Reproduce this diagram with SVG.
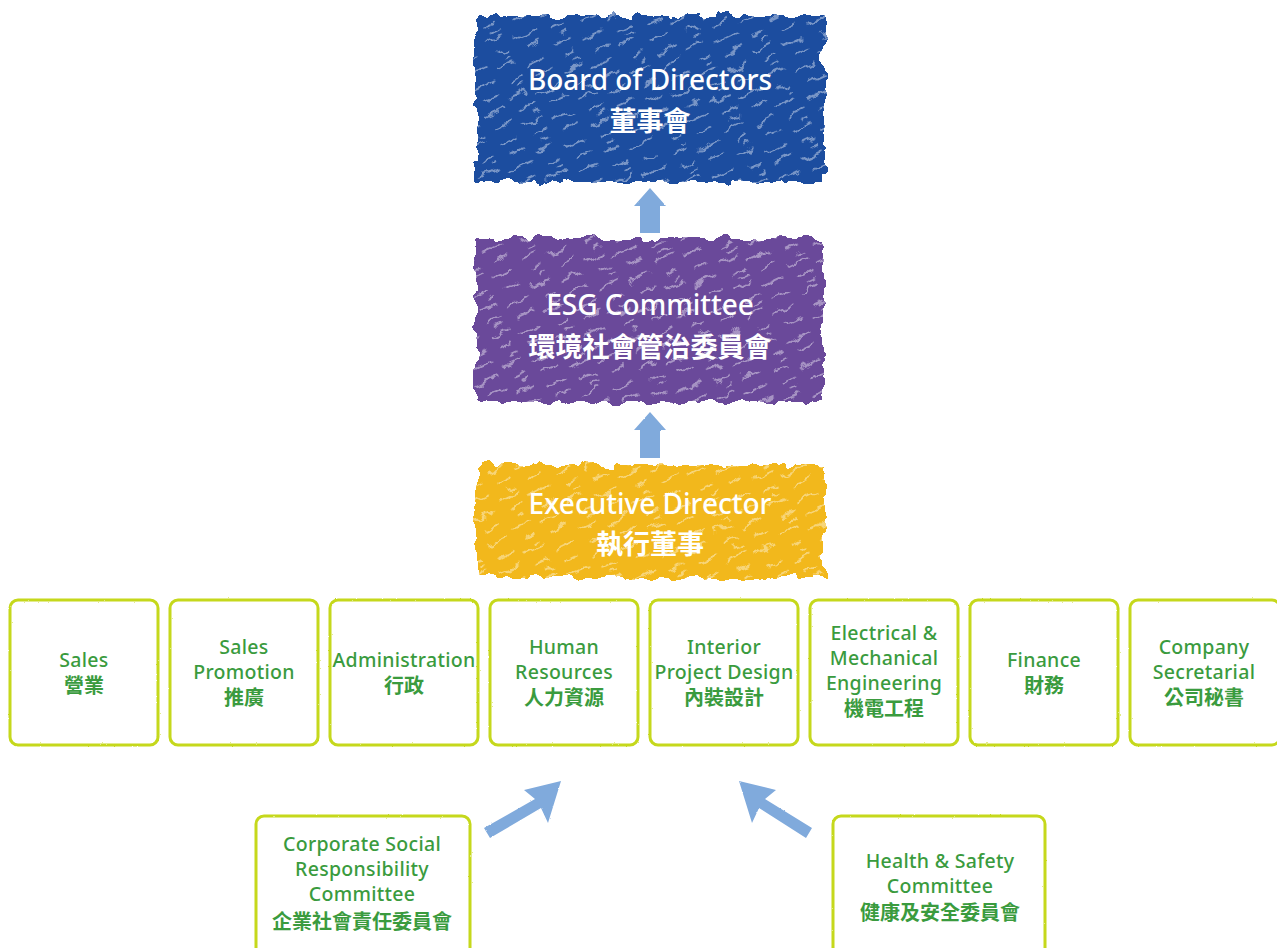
<svg xmlns="http://www.w3.org/2000/svg" width="1277" height="948" viewBox="0 0 1277 948">
<style>
.w{fill:#fff;font-family:"Noto Sans","Noto Sans CJK TC",sans-serif;font-weight:500;font-size:28px;text-anchor:middle}
.wc{fill:#fff;font-family:"Noto Sans CJK TC",sans-serif;font-weight:700;font-size:27px;text-anchor:middle}
.g{fill:#3a9b3e;font-family:"Noto Sans","Noto Sans CJK TC",sans-serif;font-weight:500;font-size:19.5px;letter-spacing:0.3px;text-anchor:middle}
.gc{fill:#3a9b3e;font-family:"Noto Sans CJK TC",sans-serif;font-weight:700;font-size:20px;text-anchor:middle}
.box{fill:#fff;stroke:#c5d81a;stroke-width:3;filter:url(#rough2)}
.arr{fill:#80aadc;filter:url(#rough2)}
</style>
<defs>
<filter id="rough" x="-5%" y="-5%" width="110%" height="110%">
<feTurbulence type="fractalNoise" baseFrequency="0.06" numOctaves="3" seed="3" result="n"/>
<feDisplacementMap in="SourceGraphic" in2="n" scale="14" xChannelSelector="R" yChannelSelector="G"/>
</filter>
<filter id="rough2" x="-5%" y="-5%" width="110%" height="110%">
<feTurbulence type="fractalNoise" baseFrequency="0.5" numOctaves="2" seed="1" result="n"/>
<feDisplacementMap in="SourceGraphic" in2="n" scale="2" xChannelSelector="R" yChannelSelector="G"/>
</filter>
<pattern id="streaks" width="60" height="30" patternUnits="userSpaceOnUse" patternTransform="rotate(-25)">
<path d="M2 4h18M30 12h22M8 19h12M36 26h16M14 27h6" stroke="#fff" stroke-width="1.6" stroke-linecap="round" opacity="0.55"/>
</pattern>
</defs>
<rect width="1277" height="948" fill="#fff"/>
<g id="connectors">
<path class="arr" d="M650 188 L666 206 L660 206 L660 233 L640 233 L640 206 L634 206 Z"/>
<path class="arr" d="M650 412 L666 430 L660 430 L660 458 L640 458 L640 430 L634 430 Z"/>
<path class="arr" d="M561 781 L548 823 L541 808 L490 838 L484 828 L535 799 L524 790 Z"/>
<path class="arr" d="M739 781 L776 790 L765 799 L812 828 L806 838 L759 808 L752 823 Z"/>
</g>
<g id="board">
<rect x="476" y="16" width="348" height="166" fill="#1f4e9f" filter="url(#rough)"/>
<rect x="476" y="16" width="348" height="166" fill="url(#streaks)" filter="url(#rough)"/>
<text class="w" x="650" y="90">Board of Directors</text>
<text class="wc" x="650" y="131">董事會</text>
</g>
<g id="esg">
<rect x="476" y="238" width="348" height="164" fill="#6b4a9a" filter="url(#rough)"/>
<rect x="476" y="238" width="348" height="164" fill="url(#streaks)" filter="url(#rough)"/>
<text class="w" x="650" y="315">ESG Committee</text>
<text class="wc" x="650" y="357">環境社會管治委員會</text>
</g>
<g id="exec">
<rect x="476" y="465" width="348" height="113" fill="#f2b81d" filter="url(#rough)"/>
<rect x="476" y="465" width="348" height="113" fill="url(#streaks)" filter="url(#rough)"/>
<text class="w" x="650" y="514">Executive Director</text>
<text class="wc" x="650" y="554">執行董事</text>
</g>
<g id="sales">
<rect class="box" x="10" y="600" width="148" height="145" rx="8"/>
<text class="g" x="84" y="667">Sales</text>
<text class="gc" x="84" y="693">營業</text>
</g>
<g id="sales-promotion">
<rect class="box" x="170" y="600" width="148" height="145" rx="8"/>
<text class="g" x="244" y="654">Sales</text>
<text class="g" x="244" y="679">Promotion</text>
<text class="gc" x="244" y="705">推廣</text>
</g>
<g id="administration">
<rect class="box" x="330" y="600" width="148" height="145" rx="8"/>
<text class="g" x="404" y="667">Administration</text>
<text class="gc" x="404" y="693">行政</text>
</g>
<g id="hr">
<rect class="box" x="490" y="600" width="148" height="145" rx="8"/>
<text class="g" x="564" y="654">Human</text>
<text class="g" x="564" y="679">Resources</text>
<text class="gc" x="564" y="705">人力資源</text>
</g>
<g id="interior">
<rect class="box" x="650" y="600" width="148" height="145" rx="8"/>
<text class="g" x="724" y="654">Interior</text>
<text class="g" x="724" y="679">Project Design</text>
<text class="gc" x="724" y="705">內裝設計</text>
</g>
<g id="em">
<rect class="box" x="810" y="600" width="148" height="145" rx="8"/>
<text class="g" x="884" y="640">Electrical &amp;</text>
<text class="g" x="884" y="665">Mechanical</text>
<text class="g" x="884" y="690">Engineering</text>
<text class="gc" x="884" y="716">機電工程</text>
</g>
<g id="finance">
<rect class="box" x="970" y="600" width="148" height="145" rx="8"/>
<text class="g" x="1044" y="667">Finance</text>
<text class="gc" x="1044" y="693">財務</text>
</g>
<g id="secretarial">
<rect class="box" x="1130" y="600" width="150" height="145" rx="8"/>
<text class="g" x="1204" y="654">Company</text>
<text class="g" x="1204" y="679">Secretarial</text>
<text class="gc" x="1204" y="705">公司秘書</text>
</g>
<g id="csr">
<rect class="box" x="256" y="816" width="214" height="140" rx="8"/>
<text class="g" x="362" y="851">Corporate Social</text>
<text class="g" x="362" y="876">Responsibility</text>
<text class="g" x="362" y="901">Committee</text>
<text class="gc" x="362" y="929">企業社會責任委員會</text>
</g>
<g id="hs">
<rect class="box" x="833" y="816" width="212" height="140" rx="8"/>
<text class="g" x="940" y="868">Health &amp; Safety</text>
<text class="g" x="940" y="893">Committee</text>
<text class="gc" x="940" y="920">健康及安全委員會</text>
</g>
</svg>
